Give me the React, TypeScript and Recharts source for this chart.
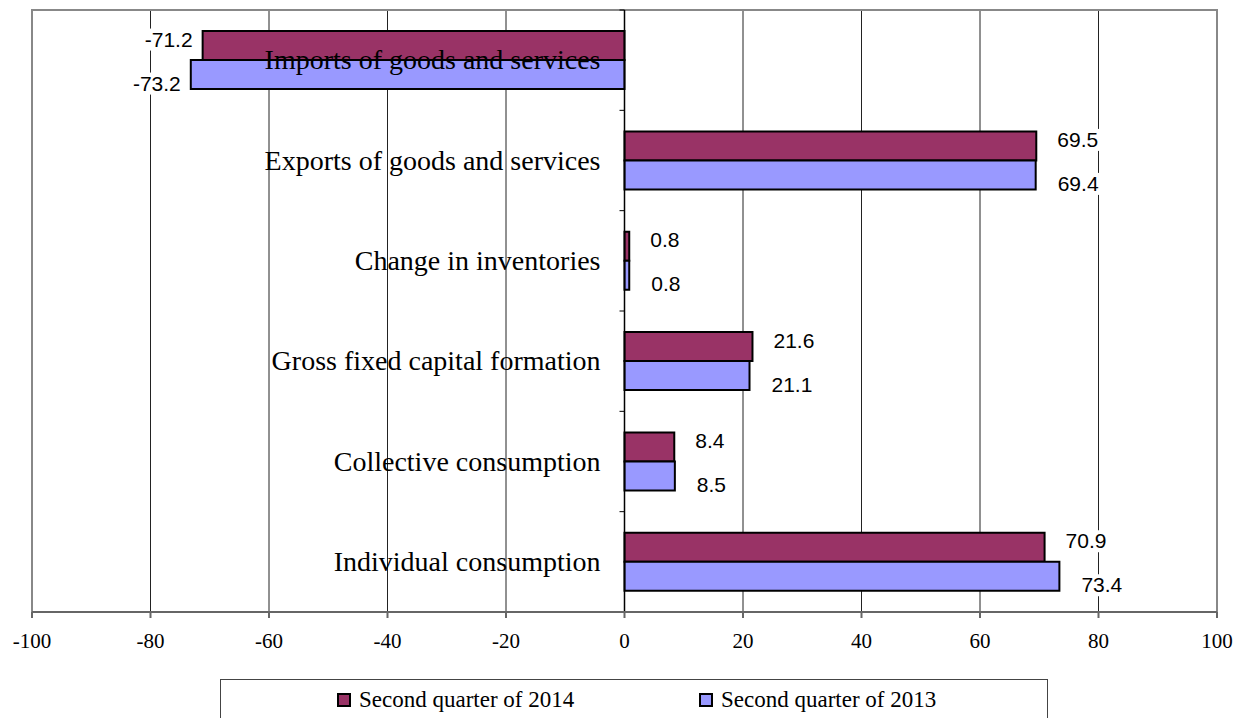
import React from "react";
import {
  BarChart,
  Bar,
  XAxis,
  YAxis,
  CartesianGrid,
  ReferenceLine,
  ReferenceArea,
  LabelList,
} from "recharts";

const categories = [
  "Imports of goods and services",
  "Exports of goods and services",
  "Change in inventories",
  "Gross fixed capital formation",
  "Collective consumption",
  "Individual consumption",
];
const q2014 = [-71.2, 69.5, 0.8, 21.6, 8.4, 70.9];
const q2013 = [-73.2, 69.4, 0.8, 21.1, 8.5, 73.4];
const xTicks = [-100, -80, -60, -40, -20, 0, 20, 40, 60, 80, 100];

const data = categories.map((name, i) => ({ name, q2014: q2014[i], q2013: q2013[i] }));

const W = 1238;
const H = 718;
const M = { top: 10, right: 21, left: 31, bottom: 66 };
const X_AXIS_H = 40;
const Y_AXIS_W = 1;
const PLOT_W = W - M.left - Y_AXIS_W - M.right;
const PLOT_H = H - M.top - M.bottom - X_AXIS_H;
const ZERO_X = M.left + Y_AXIS_W + PLOT_W / 2;
const BAND = PLOT_H / categories.length;

const serif = "'Times New Roman', 'Liberation Serif', serif";
const sans = "Arial, 'Liberation Sans', sans-serif";

const renderCategoryTick = (props: any) => {
  const { y, payload } = props;
  return (
    <g>
      <line x1={ZERO_X - 5} x2={ZERO_X} y1={y - BAND / 2} y2={y - BAND / 2} stroke="#000" />
      <text x={ZERO_X - 24} y={y} dy={9} textAnchor="end" fontFamily={serif} fontSize={28} fill="#000">
        {payload.value}
      </text>
    </g>
  );
};

const renderXTick = (props: any) => {
  const { x, y, payload } = props;
  return (
    <text x={x} y={y} dy={22} textAnchor="middle" fontFamily={serif} fontSize={21} fill="#000">
      {payload.value}
    </text>
  );
};

const makeLabel = (dx: number, dy: number) => (props: any) => {
  const { x, y, width, height, value } = props;
  const end = x + width;
  const neg = value < 0;
  const txt = value.toFixed(1);
  const tw = txt.length * 10.5;
  const tx = neg ? end - 10 : end + dx;
  const cy = y + height / 2 + dy;
  return (
    <g>
      <rect x={neg ? tx - tw : tx} y={cy - 11} width={tw} height={22} fill="#fff" />
      <text
        x={tx}
        y={cy}
        dy={7}
        textAnchor={neg ? "end" : "start"}
        fontFamily={sans}
        fontSize={21}
        fill="#000"
      >
        {txt}
      </text>
    </g>
  );
};

const LegendItem = ({ color, label }: { color: string; label: string }) => (
  <span style={{ display: "inline-flex", alignItems: "center" }}>
    <span
      style={{
        display: "inline-block",
        width: 10,
        height: 10,
        background: color,
        border: "2px solid #000",
        marginRight: 8,
      }}
    />
    <span style={{ fontFamily: serif, fontSize: 23, lineHeight: "24px" }}>{label}</span>
  </span>
);

export default function App() {
  return (
    <div style={{ position: "absolute", left: 0, top: 0, width: W, height: H, overflow: "hidden", background: "#fff" }}>
      <BarChart
        width={W}
        height={H}
        data={data}
        layout="vertical"
        margin={M}
        barCategoryGap="21%"
        barGap={0}
      >
        <CartesianGrid horizontal={false} vertical stroke="#222" verticalValues={xTicks} />
        <ReferenceArea x1={-100} x2={100} fill="none" stroke="#888" strokeWidth={2} />
        <XAxis
          type="number"
          domain={[-100, 100]}
          ticks={xTicks}
          height={X_AXIS_H}
          stroke="#666"
          strokeWidth={2}
          tickSize={6}
          tickMargin={8}
          tick={renderXTick}
          interval={0}
        />
        <YAxis
          type="category"
          dataKey="name"
          width={Y_AXIS_W}
          axisLine={false}
          tickLine={false}
          tick={renderCategoryTick}
          interval={0}
        />
        <Bar dataKey="q2014" fill="#993366" stroke="#000" strokeWidth={2} isAnimationActive={false}>
          <LabelList dataKey="q2014" content={makeLabel(21, -6)} />
        </Bar>
        <Bar dataKey="q2013" fill="#9999FF" stroke="#000" strokeWidth={2} isAnimationActive={false}>
          <LabelList dataKey="q2013" content={makeLabel(22, 9)} />
        </Bar>
        <ReferenceLine x={0} stroke="#000" strokeWidth={1.5} />
      </BarChart>
      <div
        style={{
          position: "absolute",
          left: 220,
          top: 679,
          width: 828,
          height: 60,
          border: "1px solid #444",
          boxSizing: "border-box",
        }}
      >
        <div style={{ position: "absolute", left: 116, top: 8 }}>
          <LegendItem color="#993366" label="Second quarter of 2014" />
        </div>
        <div style={{ position: "absolute", left: 478, top: 8 }}>
          <LegendItem color="#9999FF" label="Second quarter of 2013" />
        </div>
      </div>
    </div>
  );
}
